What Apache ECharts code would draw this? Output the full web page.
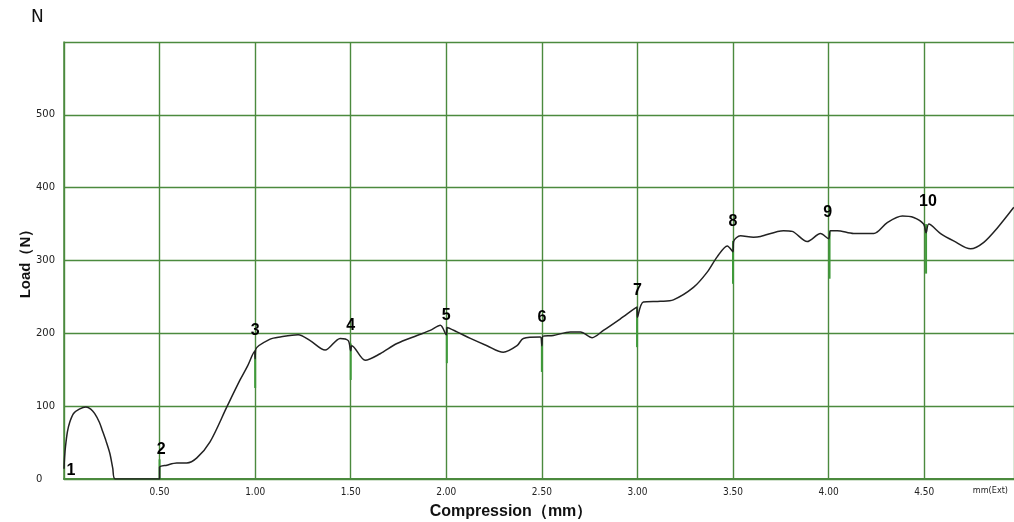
<!DOCTYPE html>
<html><head><meta charset="utf-8">
<script src="https://cdn.jsdelivr.net/npm/echarts@6/dist/echarts.min.js"></script>
<style>html,body{margin:0;padding:0;background:#fff}#c{width:1014px;height:522px}</style>
</head><body><div id="c"></div>
<script>
// Load curve (x = compression mm, y = load N)
const curveX = [0.00,0.003,0.008,0.018,0.03,0.05,0.08,0.115,0.14,0.16,0.185,0.20,0.22,0.24,0.255,0.268,0.50,
  0.50,0.538,0.59,0.642,0.695,0.764,0.852,0.921,0.96,0.997,1.0,1.003,1.079,1.131,1.225,1.288,1.366,1.445,1.487,1.50,1.506,1.576,1.654,1.742,1.847,1.916,1.969,2.0,2.004,2.056,2.126,2.213,2.298,2.37,2.403,2.492,2.50,2.505,2.56,2.649,2.702,2.763,2.822,2.911,2.998,3.0,3.031,3.12,3.188,3.293,3.365,3.417,3.47,3.50,3.503,3.539,3.607,3.644,3.764,3.81,3.888,3.958,4.0,4.01,4.045,4.131,4.236,4.307,4.386,4.445,4.497,4.51,4.524,4.586,4.654,4.743,4.812,4.884,4.969];
const curveY = [14,30,45,65,78,90,96,99,96,90,78,67,52,35,15,0,0,
  16,19,22,22,29,51,99,136,155,175,165,178,192,195,198,190,177,193,190,176,183,163,172,186,197,204,211,198,208,202,193,183,174,183,193,195,183,196,197,202,202,194,204,220,236,222,243,244,246,263,284,305,320,312,326,334,332,333,341,340,326,337,330,341,341,337,337,352,361,359,350,338,350,337,327,316,325,345,373];
// Marker numbers and their label positions
const markNames = ['1','2','3','4','5','6','7','8','9','10'];
const markX = [0.037,0.508,1.0,1.5,2.0,2.5,3.0,3.5,3.995,4.52];
const markY = [12,41,204,210,225,221,258,353,366,381];
// Green spikes at markers
const spikeX = [0.50,1.0,1.5,2.003,2.5,2.998,3.5,4.005,4.51];
const spikeTop = [27,177,186,208,195,236,327,341,350];
const spikeBottom = [0,125,136,159,147,181,268,275,282];
// Axis
const yTicks = [0,100,200,300,400,500];
const xUnit = 'mm(Ext)';
const xMax = 4.97;

const curve = curveX.map((x,i)=>[x,curveY[i]]);
const marks = markX.map((x,i)=>[x,markY[i],markNames[i]]);
const spikes = spikeX.map((x,i)=>[x,spikeTop[i],spikeBottom[i]]);
const gridGreen = '#4b8a3e';
const condensed = '"Liberation Sans Narrow","DejaVu Sans Condensed",sans-serif';

const chart = echarts.init(document.getElementById('c'));
chart.setOption({
  animation:false,
  backgroundColor:'#fff',
  grid:{left:64,top:42,right:0,bottom:43,containLabel:false,outerBoundsMode:'none'},
  xAxis:{type:'value',min:0,max:xMax,interval:0.5,
    axisLine:{show:true,lineStyle:{color:gridGreen,width:2}},
    axisTick:{show:false},
    splitLine:{show:true,lineStyle:{color:gridGreen,width:1.4}},
    axisLabel:{margin:8,fontSize:10,color:'#222',fontFamily:condensed,
      formatter:v=>(v===0||Math.abs(v-xMax)<1e-6)?'':v.toFixed(2)}},
  yAxis:{type:'value',min:0,max:600,interval:100,
    axisLine:{show:true,lineStyle:{color:gridGreen,width:1.5}},
    axisTick:{show:false},
    splitLine:{show:true,lineStyle:{color:gridGreen,width:1.4}},
    axisLabel:{margin:28,align:'left',fontSize:10,color:'#222',fontFamily:'"DejaVu Sans",sans-serif',
      formatter:v=>yTicks.indexOf(v)>=0?String(v):''}},
  graphic:[
    {type:'text',left:31,top:9,style:{text:'N',fontSize:17,fontFamily:'"DejaVu Sans",sans-serif',fill:'#111'}},
    {type:'text',x:1008,y:491,style:{text:xUnit,fontSize:9,fontFamily:condensed,fill:'#222',align:'right',verticalAlign:'middle'}},
    {type:'text',x:26,y:260,rotation:Math.PI/2,style:{text:'Load（N）',fontSize:15,fontWeight:'bold',fontFamily:'"Liberation Sans",Arial,sans-serif',fill:'#111',align:'center',verticalAlign:'middle'}},
    {type:'text',x:511,y:512,style:{text:'Compression（mm）',fontSize:16,fontWeight:'bold',fontFamily:'"Liberation Sans",Arial,sans-serif',fill:'#111',align:'center',verticalAlign:'middle'}}
  ],
  series:[
    {type:'custom',z:3,data:spikes,encode:{x:0,y:[1,2]},
      renderItem:(params,api)=>{
        const x=api.value(0);
        const p1=api.coord([x,api.value(1)]);
        const p2=api.coord([x,api.value(2)]);
        return {type:'line',shape:{x1:p1[0],y1:p1[1],x2:p2[0],y2:p2[1]},style:{stroke:'#3f9a3a',lineWidth:2}};
      }},
    {type:'line',z:4,data:curve,showSymbol:false,symbol:'none',smooth:0.3,
      lineStyle:{color:'#222',width:1.5}},
    {type:'scatter',z:5,data:marks,symbolSize:0,itemStyle:{opacity:1},
      label:{show:true,position:'inside',formatter:p=>p.value[2],fontSize:16,fontWeight:'bold',
        fontFamily:'"Liberation Sans",Arial,sans-serif',color:'#000',opacity:1,textBorderWidth:0}}
  ]
});
</script></body></html>
